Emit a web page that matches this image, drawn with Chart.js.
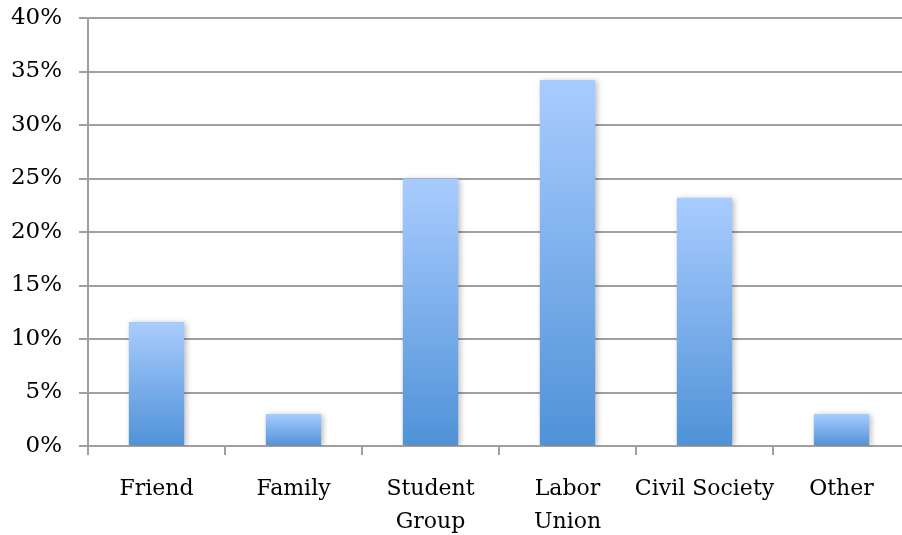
<!DOCTYPE html>
<html>
<head>
<meta charset="utf-8">
<script src="https://cdn.jsdelivr.net/npm/chart.js@4"></script>
<style>
html,body{margin:0;padding:0;background:#fff;overflow:hidden;width:902px;height:535px;}
#wrap{position:absolute;left:0;top:0;width:912px;height:535px;}
</style>
</head>
<body>
<div id="wrap"><canvas id="c" width="912" height="535"></canvas></div>
<script>
const categories = [["Friend"], ["Family"], ["Student", "Group"], ["Labor", "Union"], ["Civil Society"], ["Other"]];
const values = [11.6, 3.0, 25.0, 34.2, 23.2, 3.0];
const yTicks = [0, 5, 10, 15, 20, 25, 30, 35, 40];

const topColor = '#a9ccff';
const bottomColor = '#4f92d7';
const axisColor = '#a0a0a0';
const fontFamily = '"DejaVu Serif", serif';

const shadowPlugin = {
  id: 'barShadow',
  beforeDatasetsDraw(chart) {
    const ctx = chart.ctx;
    ctx.save();
    ctx.shadowColor = 'rgba(0,0,0,0.28)';
    ctx.shadowBlur = 6;
    ctx.shadowOffsetX = 2;
    ctx.shadowOffsetY = 1;
  },
  afterDatasetsDraw(chart) {
    chart.ctx.restore();
  }
};

function barGradient(context) {
  const chart = context.chart;
  const { ctx, chartArea, scales } = chart;
  if (!chartArea || !scales.y) return bottomColor;
  const v = context.raw;
  const yTop = scales.y.getPixelForValue(v);
  const yBot = scales.y.getPixelForValue(0);
  if (!isFinite(yTop) || !isFinite(yBot) || yTop === yBot) return bottomColor;
  const g = ctx.createLinearGradient(0, yTop, 0, yBot);
  g.addColorStop(0, topColor);
  g.addColorStop(1, bottomColor);
  return g;
}

new Chart(document.getElementById('c'), {
  type: 'bar',
  data: {
    labels: categories,
    datasets: [{
      data: values,
      backgroundColor: barGradient,
      borderWidth: 0,
      categoryPercentage: 1.0,
      barPercentage: 0.404
    }]
  },
  plugins: [shadowPlugin],
  options: {
    responsive: false,
    animation: false,
    devicePixelRatio: 1,
    layout: { autoPadding: false, padding: { top: 18, right: 2, left: 0, bottom: 0 } },
    plugins: { legend: { display: false }, tooltip: { enabled: false } },
    scales: {
      x: {
        offset: true,
        afterFit(s) { s.height = 89; s.paddingLeft = 0; s.paddingRight = 0; },
        grid: {
          offset: true,
          drawOnChartArea: false,
          drawTicks: true,
          tickLength: 9,
          color: axisColor,
          lineWidth: 2
        },
        border: { display: true, color: axisColor, width: 2 },
        ticks: {
          color: '#000',
          font: { family: fontFamily, size: 22, lineHeight: 1.5 },
          padding: 18,
          maxRotation: 0,
          autoSkip: false
        }
      },
      y: {
        min: 0,
        max: 40,
        afterFit(s) { s.width = 88; s.paddingTop = 0; s.paddingBottom = 0; },
        afterBuildTicks(s) { s.ticks = yTicks.map(v => ({ value: v })); },
        grid: {
          drawOnChartArea: true,
          drawTicks: true,
          tickLength: 9,
          color: axisColor,
          lineWidth: 2
        },
        border: { display: true, color: axisColor, width: 2 },
        ticks: {
          color: '#000',
          font: { family: fontFamily, size: 23 },
          padding: 17,
          callback: v => v + '%'
        }
      }
    }
  }
});
</script>
</body>
</html>
